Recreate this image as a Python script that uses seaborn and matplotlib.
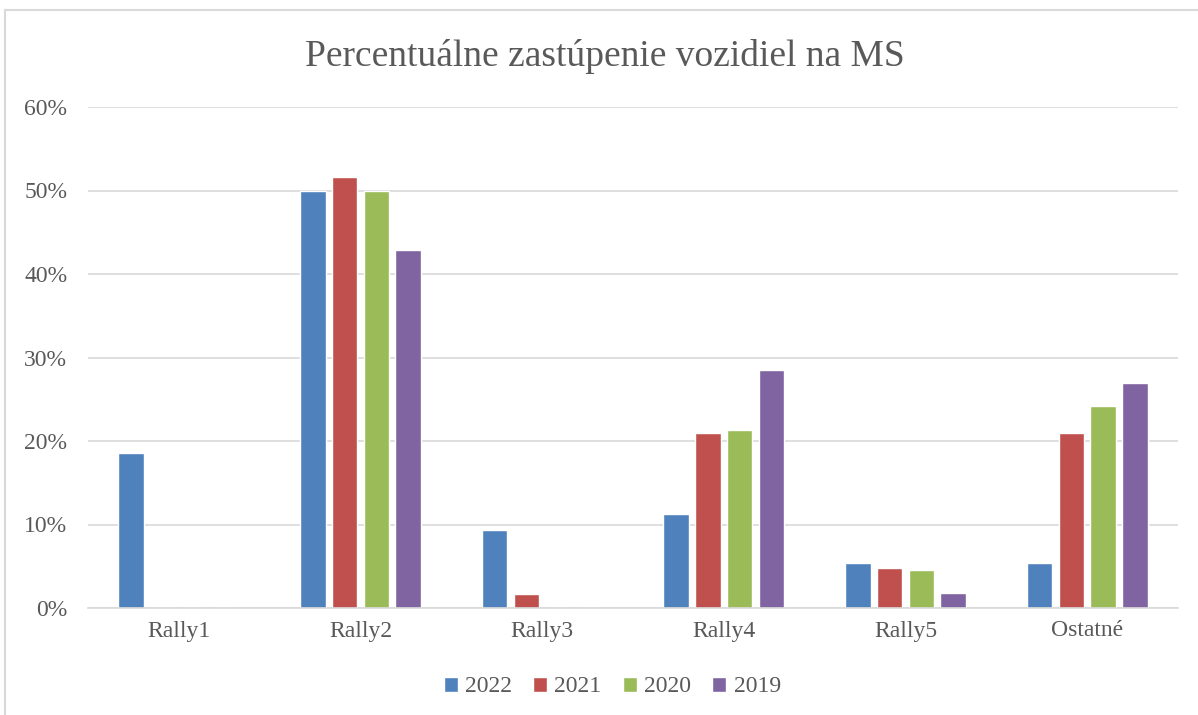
import pandas as pd
import matplotlib.pyplot as plt
import seaborn as sns
from matplotlib.patches import Rectangle
from matplotlib.ticker import PercentFormatter

# Data
categories = ["Rally1", "Rally2", "Rally3", "Rally4", "Rally5", "Ostatné"]
years = ["2022", "2021", "2020", "2019"]
v2022 = [18.6, 50.0, 9.3, 11.3, 5.4, 5.4]
v2021 = [0.0, 51.6, 1.7, 21.0, 4.8, 20.9]
v2020 = [0.0, 50.0, 0.0, 21.3, 4.5, 24.2]
v2019 = [0.0, 42.9, 0.0, 28.5, 1.8, 26.9]
colors = ["#4F81BD", "#C0504D", "#9BBB59", "#8064A2"]

rows = []
for year, vals in zip(years, [v2022, v2021, v2020, v2019]):
    for cat, v in zip(categories, vals):
        rows.append({"category": cat, "year": year, "value": v / 100})
df = pd.DataFrame(rows)

sns.set_theme(style="white")
plt.rcParams['font.family'] = ['Liberation Serif', 'DejaVu Serif']
text_color = "#595959"

fig = plt.figure(figsize=(11.98, 7.15), dpi=100)
ax = fig.add_axes([88 / 1198, 1 - 608 / 715, 1090 / 1198, 501 / 715])

sns.barplot(data=df, x="category", y="value", hue="year", hue_order=years,
            order=categories, palette=colors, width=0.7, gap=0.2,
            saturation=1, ax=ax, legend=True)

ax.set_ylim(0, 0.6)
ax.set_yticks([0, 0.1, 0.2, 0.3, 0.4, 0.5, 0.6])
ax.yaxis.set_major_formatter(PercentFormatter(1.0, decimals=0))
ax.grid(axis="y", color="#D9D9D9", linewidth=1.2)
ax.set_axisbelow(True)
for s in ["top", "right", "left"]:
    ax.spines[s].set_visible(False)
ax.spines["bottom"].set_color("#D9D9D9")
ax.spines["bottom"].set_linewidth(1.2)
ax.tick_params(axis="both", length=0, labelsize=17, colors=text_color)
ax.tick_params(axis="x", pad=9)
ax.tick_params(axis="y", pad=15)
ax.set_xlabel("")
ax.set_ylabel("")

fig.suptitle("Percentuálne zastúpenie vozidiel na MS", x=0.505, y=0.945,
             fontsize=27, color=text_color)

handles, labels = ax.get_legend_handles_labels()
ax.legend_.remove()
fig.legend(handles, labels, loc="center", bbox_to_anchor=(0.511, 1 - 687 / 715),
           ncol=4, frameon=False, fontsize=17, labelcolor=text_color,
           handlelength=0.6, handleheight=0.6, handletextpad=0.3,
           columnspacing=0.9)

fig.patches.append(Rectangle((5 / 1198, -0.05), 1.1, 1 - 10 / 715 + 0.05,
                             transform=fig.transFigure, fill=False,
                             edgecolor="#D9D9D9", linewidth=1.5))

fig.savefig("out.png", dpi=100)
